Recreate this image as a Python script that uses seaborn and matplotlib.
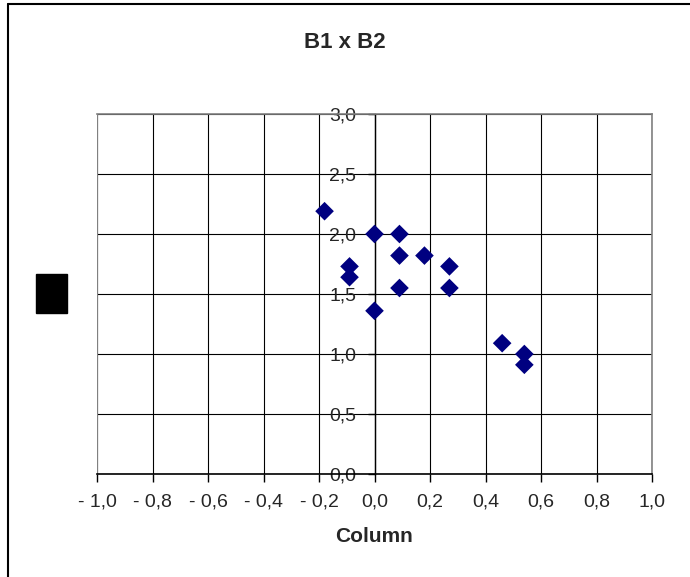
import matplotlib
matplotlib.use("Agg")
import matplotlib.pyplot as plt
from matplotlib.patches import Rectangle
from matplotlib.lines import Line2D
import seaborn as sns
import pandas as pd

# values
b1 = [-0.18, 0.0, 0.09, 0.09, 0.18, -0.09, -0.09, 0.27, 0.09, 0.27, 0.0, 0.46, 0.54, 0.54]
b2 = [2.19, 2.0, 2.0, 1.82, 1.82, 1.73, 1.64, 1.73, 1.55, 1.55, 1.36, 1.09, 1.0, 0.91]

x_ticks = [-1.0, -0.8, -0.6, -0.4, -0.2, 0.0, 0.2, 0.4, 0.6, 0.8, 1.0]
x_labels = ["- 1,0", "- 0,8", "- 0,6", "- 0,4", "- 0,2", "0,0", "0,2", "0,4", "0,6", "0,8", "1,0"]
y_ticks = [0.0, 0.5, 1.0, 1.5, 2.0, 2.5, 3.0]
y_labels = ["0,0", "0,5", "1,0", "1,5", "2,0", "2,5", "3,0"]

sns.set_style("white")
plt.rcParams['font.family'] = ['Liberation Sans', 'DejaVu Sans']

df = pd.DataFrame({"B1": b1, "B2": b2})

fig = plt.figure(figsize=(6.9, 5.77), dpi=100)
ax = fig.add_axes([97 / 690, 103 / 577, 555 / 690, 360 / 577])

sns.scatterplot(data=df, x="B1", y="B2", marker="D", color="#000080",
                s=90, edgecolor="none", ax=ax, zorder=3)

# excel style axes: y axis through x=0
ax.spines["left"].set_position(("data", 0))
ax.spines["left"].set_color("black")
ax.spines["left"].set_linewidth(1.0)
ax.spines["bottom"].set_color("black")
ax.spines["bottom"].set_linewidth(1.2)
for side in ["top", "right"]:
    ax.spines[side].set_color("#808080")
    ax.spines[side].set_linewidth(1.2)
ax.axvline(-1, color="#808080", linewidth=1.5, zorder=1)

ax.set_xlim(-1, 1)
ax.set_ylim(0, 3)
ax.set_xticks(x_ticks)
ax.set_xticklabels(x_labels)
ax.set_yticks(y_ticks)
ax.set_yticklabels(y_labels)

ax.grid(True, color="black", linewidth=0.8)
ax.set_axisbelow(True)

ax.tick_params(axis="x", direction="out", length=6, width=1, color="black", pad=8, labelsize=14)
ax.tick_params(axis="y", direction="out", length=5, width=1, color="black", pad=8, labelsize=14)
ax.tick_params(bottom=True, left=True)

ax.set_xlabel("Column", fontsize=15, fontweight="bold", labelpad=12)
ax.set_ylabel("")
fig.suptitle("B1 x B2", x=0.5, y=1 - 42 / 577, va="center", fontsize=16, fontweight="bold")

# black box left of the plot and frame lines of the chart area
fig.patches.append(Rectangle((36 / 690, 1 - 313 / 577), 31 / 690, 39 / 577,
                             transform=fig.transFigure, color="black"))
fig.lines.append(Line2D([7.5 / 690, 7.5 / 690], [0, 1 - 3.5 / 577], transform=fig.transFigure,
                        color="black", linewidth=1.5))
fig.lines.append(Line2D([7.5 / 690, 1], [1 - 3.5 / 577, 1 - 3.5 / 577], transform=fig.transFigure,
                        color="black", linewidth=1.5))

fig.savefig("out.png", dpi=100)
